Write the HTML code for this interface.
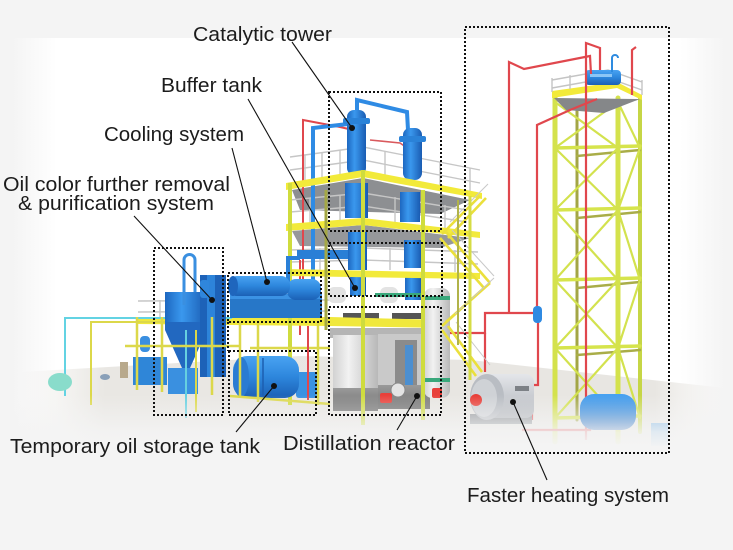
<!DOCTYPE html>
<html><head><meta charset="utf-8"><style>
html,body{margin:0;padding:0;background:#f4f4f4;}
svg{display:block}
text{font-family:"Liberation Sans",sans-serif;font-size:20px;fill:#1c1c1c}
</style></head><body>
<svg width="733" height="550" viewBox="0 0 733 550" xmlns="http://www.w3.org/2000/svg">
<defs>
<linearGradient id="lf" x1="0" x2="1" y1="0" y2="0"><stop offset="0" stop-color="#f4f4f4"/><stop offset="1" stop-color="#fff"/></linearGradient>
<linearGradient id="rf" x1="0" x2="1" y1="0" y2="0"><stop offset="0" stop-color="#f4f4f4" stop-opacity="0"/><stop offset="1" stop-color="#f4f4f4"/></linearGradient>
<linearGradient id="bf" x1="0" y1="0" x2="0" y2="1"><stop offset="0" stop-color="#f4f4f4" stop-opacity="0"/><stop offset="0.7" stop-color="#f4f4f4" stop-opacity="0.85"/><stop offset="1" stop-color="#f4f4f4"/></linearGradient>
<linearGradient id="fl" x1="0" y1="0" x2="1" y2="0"><stop offset="0" stop-color="#ebe9e5" stop-opacity="0"/><stop offset="0.12" stop-color="#e9e7e3"/><stop offset="0.9" stop-color="#e8e6e2"/><stop offset="1" stop-color="#ebe9e5" stop-opacity="0"/></linearGradient>
<linearGradient id="cyl" x1="0" x2="1" y1="0" y2="0"><stop offset="0" stop-color="#1d67c0"/><stop offset="0.4" stop-color="#3a98ee"/><stop offset="1" stop-color="#1a5cb2"/></linearGradient>
<linearGradient id="hcyl" x1="0" x2="0" y1="0" y2="1"><stop offset="0" stop-color="#49a3f2"/><stop offset="0.5" stop-color="#2d86dc"/><stop offset="1" stop-color="#1b60b5"/></linearGradient>
<linearGradient id="steel" x1="0" x2="1" y1="0" y2="0"><stop offset="0" stop-color="#d2d2d2"/><stop offset="0.35" stop-color="#f2f2f2"/><stop offset="1" stop-color="#b8b8b8"/></linearGradient>
<linearGradient id="steelb" x1="0" x2="0" y1="0" y2="1"><stop offset="0" stop-color="#9a9a9a"/><stop offset="1" stop-color="#6c6c6c"/></linearGradient>
<linearGradient id="boil" x1="0" x2="0" y1="0" y2="1"><stop offset="0" stop-color="#e4e6ea"/><stop offset="1" stop-color="#aeb2b8"/></linearGradient>
</defs>

<!-- background -->
<rect width="733" height="550" fill="#f4f4f4"/>
<rect x="12" y="38" width="713" height="410" fill="#fff"/>
<rect x="12" y="38" width="45" height="410" fill="url(#lf)"/>
<rect x="680" y="38" width="45" height="410" fill="url(#rf)"/>
<!-- floor -->
<polygon points="20,372 300,356 470,360 725,388 725,445 20,440" fill="url(#fl)"/>

<!-- ============ RIGHT TOWER ============ -->
<g stroke-linecap="round">
  <line x1="577" y1="104" x2="577" y2="420" stroke="#a3a645" stroke-width="3"/>
  <line x1="640" y1="98" x2="640" y2="432" stroke="#c6d646" stroke-width="4"/>
  <g stroke="#a9ad48" stroke-width="2.5">
    <line x1="577" y1="156" x2="640" y2="150"/>
    <line x1="577" y1="218" x2="640" y2="212"/>
    <line x1="577" y1="288" x2="640" y2="282"/>
    <line x1="577" y1="355" x2="640" y2="350"/>
  </g>
  <g stroke="#d3e24e" stroke-width="2.2">
    <line x1="555" y1="102" x2="618" y2="148"/><line x1="618" y1="102" x2="555" y2="148"/>
    <line x1="555" y1="148" x2="618" y2="210"/><line x1="618" y1="148" x2="555" y2="210"/>
    <line x1="555" y1="210" x2="618" y2="280"/><line x1="618" y1="210" x2="555" y2="280"/>
    <line x1="555" y1="280" x2="618" y2="348"/><line x1="618" y1="280" x2="555" y2="348"/>
    <line x1="555" y1="348" x2="618" y2="418"/><line x1="618" y1="348" x2="555" y2="418"/>
    <line x1="618" y1="102" x2="640" y2="148"/><line x1="640" y1="148" x2="618" y2="210"/>
    <line x1="618" y1="210" x2="640" y2="280"/><line x1="640" y1="280" x2="618" y2="348"/>
    <line x1="618" y1="348" x2="640" y2="418"/>
  </g>
  <g stroke="#d6e44c" stroke-width="3.5">
    <line x1="555" y1="148" x2="640" y2="146"/>
    <line x1="555" y1="210" x2="640" y2="208"/>
    <line x1="555" y1="280" x2="640" y2="278"/>
    <line x1="555" y1="348" x2="640" y2="346"/>
    <line x1="555" y1="418" x2="640" y2="416"/>
  </g>
  <line x1="555" y1="94" x2="555" y2="442" stroke="#d4e24c" stroke-width="5"/>
  <line x1="618" y1="98" x2="618" y2="442" stroke="#d4e24c" stroke-width="5"/>
</g>
<polygon points="554,98 640,99 604,113 566,110" fill="#858789"/>
<polygon points="552,91 617,82 642,95 642,100 617,88 552,98" fill="#f2ea3a"/>
<g stroke="#c4c4c4" stroke-width="1.4" fill="none">
  <polyline points="552,80 608,70 642,82"/>
  <polyline points="552,88 608,78 642,90"/>
  <line x1="552" y1="78" x2="552" y2="92"/><line x1="570" y1="75" x2="570" y2="89"/><line x1="642" y1="80" x2="642" y2="95"/>
</g>
<rect x="585" y="70" width="36" height="15" rx="4" fill="url(#hcyl)"/>
<rect x="590" y="74" width="22" height="3" fill="#8cc6f6"/>
<path d="M612,72 V58 a3,3 0 0 1 6,0" stroke="#2e8be0" stroke-width="2" fill="none"/>

<g stroke="#e0474d" stroke-width="2.2" fill="none">
  <polyline points="509,312 509,62 524,69 590,56 591,74"/>
  <polyline points="537,313 537,125 570,110 597,99"/>
  <polyline points="586,440 586,43 600,48 600,70"/>
  <polyline points="632,95 632,50 636,47"/>
  <polyline points="440,333 485,333 485,313 538,313 538,385 532,385 532,420"/>
  <polyline points="485,333 485,372"/>
  <polyline points="522,430 590,430 590,418"/>
</g>
<rect x="533" y="306" width="9" height="17" rx="4" fill="#2f8ae2"/>

<!-- boiler -->
<rect x="470" y="414" width="62" height="10" fill="#8e9297"/>
<rect x="482" y="374" width="52" height="44" rx="8" fill="url(#boil)"/>
<rect x="515" y="386" width="14" height="5" fill="#7d8186"/>
<ellipse cx="487" cy="397" rx="17" ry="23" fill="#b9bdc3"/>
<ellipse cx="484" cy="398" rx="13" ry="19" fill="#cfd2d6"/>
<circle cx="476" cy="400" r="6" fill="#e83e38"/>
<rect x="580" y="394" width="56" height="36" rx="14" fill="url(#hcyl)"/>
<rect x="651" y="423" width="17" height="23" fill="#4a9ce6" opacity="0.7"/>

<!-- ============ CENTRAL TOWER ============ -->
<polygon points="292,190 363,178 470,200 440,214 300,210" fill="#8d8f92"/>
<polygon points="292,231 363,225 470,238 440,248 300,246" fill="#96989b"/>
<g stroke="#c6c6c6" stroke-width="1.4" fill="none">
  <polyline points="290,157 363,147 480,170"/><polyline points="290,170 363,160 480,183"/>
  <polyline points="290,200 363,193 467,210"/><polyline points="290,212 363,206 467,222"/>
  <polyline points="290,250 363,248 478,252"/><polyline points="290,262 363,260 478,264"/>
  <polyline points="138,301 330,300"/><polyline points="138,312 330,311"/>
  <line x1="305" y1="155" x2="305" y2="185"/><line x1="322" y1="152" x2="322" y2="183"/><line x1="340" y1="150" x2="340" y2="180"/>
  <line x1="385" y1="151" x2="385" y2="180"/><line x1="410" y1="156" x2="410" y2="185"/><line x1="440" y1="162" x2="440" y2="190"/><line x1="470" y1="168" x2="470" y2="195"/>
  <line x1="310" y1="198" x2="310" y2="226"/><line x1="340" y1="195" x2="340" y2="222"/><line x1="395" y1="197" x2="395" y2="225"/><line x1="445" y1="205" x2="445" y2="232"/>
  <line x1="320" y1="248" x2="320" y2="270"/><line x1="390" y1="248" x2="390" y2="270"/><line x1="455" y1="250" x2="455" y2="272"/>
  <line x1="160" y1="300" x2="160" y2="318"/><line x1="190" y1="300" x2="190" y2="318"/><line x1="250" y1="300" x2="250" y2="318"/><line x1="280" y1="300" x2="280" y2="318"/>
</g>

<polyline points="303,300 303,120 340,127 353,130" stroke="#e0474d" stroke-width="2" fill="none"/>
<polyline points="370,140 400,143 410,150" stroke="#d9595d" stroke-width="1.6" fill="none"/>
<line x1="300" y1="260" x2="300" y2="335" stroke="#e0474d" stroke-width="2"/>
<polyline points="313,305 313,128 348,124" stroke="#2f8be4" stroke-width="4" fill="none"/>
<polyline points="357,112 357,100 407,112 408,130" stroke="#2f8be4" stroke-width="4" fill="none"/>
<rect x="297" y="250" width="62" height="9" fill="#2a7fd6"/>

<rect x="347" y="110" width="19" height="65" rx="7" fill="url(#cyl)"/>
<rect x="343" y="118" width="27" height="6" rx="2" fill="#2a82d8"/>
<rect x="403" y="128" width="19" height="52" rx="7" fill="url(#cyl)"/>
<rect x="399" y="136" width="27" height="6" rx="2" fill="#2a82d8"/>
<rect x="345" y="183" width="23" height="35" fill="url(#cyl)"/>
<rect x="400" y="192" width="20" height="30" fill="url(#cyl)"/>
<rect x="348" y="232" width="19" height="38" fill="url(#cyl)"/>
<rect x="404" y="240" width="17" height="28" fill="url(#cyl)"/>
<rect x="350" y="276" width="16" height="20" fill="url(#cyl)"/>
<rect x="405" y="276" width="16" height="24" fill="url(#cyl)"/>
<rect x="328" y="287" width="18" height="16" rx="6" fill="#e3e3e3"/>
<rect x="380" y="287" width="18" height="16" rx="6" fill="#e3e3e3"/>
<rect x="375" y="293" width="50" height="4" fill="#3aa87c"/>
<rect x="343" y="313" width="36" height="6" fill="#555"/>
<rect x="392" y="313" width="32" height="6" fill="#555"/>

<polygon points="286,183 363,170 482,193 482,199 363,177 286,190" fill="#f2ea3a"/>
<polygon points="286,224 363,218 480,232 480,238 363,225 286,231" fill="#f2ea3a"/>
<polygon points="286,269 480,273 480,279 286,276" fill="#f2ea3a"/>
<polygon points="137,317 330,317 445,320 445,328 330,326 137,324" fill="#f0e83c"/>

<!-- reactor -->
<rect x="330" y="328" width="112" height="10" fill="#b5b5b5"/>
<rect x="378" y="334" width="52" height="74" fill="#c9c9c9"/>
<rect x="395" y="340" width="22" height="50" fill="#8b8b8b"/>
<rect x="405" y="345" width="8" height="40" fill="#4c8fd0"/>
<rect x="333" y="335" width="45" height="55" fill="url(#steel)"/>
<rect x="333" y="388" width="45" height="23" fill="url(#steelb)"/>
<rect x="378" y="385" width="52" height="24" fill="url(#steelb)"/>
<rect x="424" y="288" width="26" height="110" rx="8" fill="url(#steel)"/>
<rect x="424" y="296" width="26" height="4" fill="#3aa87c"/>
<rect x="424" y="378" width="26" height="4" fill="#3aa87c"/>
<rect x="380" y="393" width="12" height="10" rx="2" fill="#e8403a"/>
<rect x="432" y="388" width="10" height="10" rx="2" fill="#e8403a"/>
<circle cx="398" cy="390" r="7" fill="#e4e4e4" stroke="#888" stroke-width="1"/>

<g stroke="#ebe03c" stroke-width="2.6" fill="none">
  <line x1="480" y1="196" x2="442" y2="234"/><line x1="486" y1="198" x2="448" y2="238"/>
  <line x1="446" y1="232" x2="490" y2="283"/><line x1="440" y1="238" x2="484" y2="288"/>
  <line x1="490" y1="283" x2="446" y2="322"/><line x1="484" y1="288" x2="442" y2="326"/>
  <line x1="448" y1="326" x2="482" y2="372"/><line x1="442" y1="330" x2="476" y2="376"/>
</g>
<g stroke="#c8c8c8" stroke-width="1" fill="none">
  <line x1="450" y1="222" x2="488" y2="184"/><line x1="452" y1="230" x2="494" y2="276"/>
  <line x1="455" y1="314" x2="494" y2="278"/><line x1="456" y1="322" x2="490" y2="365"/>
</g>

<g stroke-linecap="butt">
  <line x1="326" y1="190" x2="326" y2="330" stroke="#a4a845" stroke-width="3"/>
  <line x1="290" y1="183" x2="290" y2="405" stroke="#cfdc3e" stroke-width="4"/>
  <line x1="363" y1="170" x2="363" y2="425" stroke="#cfdc3e" stroke-width="4"/>
  <line x1="423" y1="190" x2="423" y2="420" stroke="#cfdc3e" stroke-width="4"/>
  <line x1="470" y1="196" x2="470" y2="380" stroke="#d6dc44" stroke-width="3"/>
  <line x1="458" y1="200" x2="458" y2="345" stroke="#b1b34a" stroke-width="2"/>
</g>

<!-- ============ LEFT GROUP ============ -->
<polyline points="65,396 65,318 232,318" stroke="#63d3e3" stroke-width="2" fill="none"/>
<polyline points="91,405 91,322 232,322" stroke="#dcd84a" stroke-width="2" fill="none"/>
<ellipse cx="60" cy="382" rx="12" ry="9" fill="#89dccb"/>
<rect x="120" y="362" width="8" height="16" fill="#b8a98c"/>
<ellipse cx="105" cy="377" rx="5" ry="3" fill="#8aa0b8"/>

<rect x="133" y="357" width="34" height="28" fill="#2f86d8"/>
<rect x="140" y="336" width="10" height="16" rx="4" fill="#3a8fe0"/>
<path d="M165,298 H207 V330 L190,368 H182 L165,330 Z" fill="#2268c0"/>
<rect x="165" y="292" width="42" height="30" fill="url(#cyl)"/>
<rect x="200" y="275" width="26" height="102" fill="#1d62b8"/>
<rect x="207" y="275" width="8" height="102" fill="#2d84da"/>
<rect x="168" y="368" width="30" height="26" fill="#3a90e0"/>
<path d="M184,305 V260 a5.5,5.5 0 0 1 11,0 V292" stroke="#3a8fe0" stroke-width="3" fill="none"/>
<rect x="200" y="280" width="9" height="18" rx="3" fill="#2f86dc"/>
<line x1="186" y1="330" x2="186" y2="418" stroke="#66d0e0" stroke-width="2"/>
<line x1="196" y1="330" x2="196" y2="412" stroke="#dcd84a" stroke-width="2"/>

<path d="M288,282 V258 H300" stroke="#2a80d8" stroke-width="4" fill="none"/>
<rect x="230" y="294" width="92" height="24" fill="#2777c8"/>
<rect x="230" y="294" width="92" height="5" fill="#3b92e4"/>
<rect x="287" y="279" width="34" height="21" rx="9" fill="url(#hcyl)"/>
<rect x="228" y="276" width="62" height="20" rx="9" fill="url(#hcyl)"/>
<ellipse cx="233" cy="286" rx="5" ry="10" fill="#1f66bd"/>

<rect x="296" y="372" width="22" height="26" rx="3" fill="#3a92e2"/>
<rect x="233" y="356" width="66" height="42" rx="14" fill="url(#hcyl)"/>
<ellipse cx="241" cy="377" rx="8" ry="20" fill="#2a7bd2"/>
<line x1="263" y1="358" x2="263" y2="396" stroke="#1c5eb0" stroke-width="1.5"/>

<g stroke="#dcd84a" stroke-width="2.5">
  <line x1="137" y1="317" x2="137" y2="390"/>
  <line x1="162" y1="317" x2="162" y2="392"/>
  <line x1="212" y1="317" x2="212" y2="395"/>
  <line x1="240" y1="322" x2="240" y2="398"/>
  <line x1="258" y1="322" x2="258" y2="402"/>
  <line x1="318" y1="322" x2="318" y2="405"/>
  <line x1="125" y1="346" x2="240" y2="346"/>
  <line x1="230" y1="396" x2="330" y2="404"/>
  <line x1="250" y1="348" x2="330" y2="348"/>
</g>
<line x1="308" y1="326" x2="308" y2="400" stroke="#e0474d" stroke-width="2"/>

<!-- bottom fade -->
<rect x="0" y="395" width="733" height="53" fill="url(#bf)"/>

<!-- ============ DOTTED BOXES ============ -->
<g fill="none" stroke="#111" stroke-width="2" stroke-dasharray="2 2">
  <rect x="329" y="92" width="112" height="139"/>
  <rect x="329" y="243" width="113" height="53"/>
  <rect x="329" y="307" width="112" height="108"/>
  <rect x="154" y="248" width="69" height="167"/>
  <rect x="228" y="273" width="93" height="49"/>
  <line x1="228" y1="322" x2="228" y2="351"/>
  <rect x="229" y="351" width="87" height="64"/>
  <rect x="465" y="27" width="204" height="426"/>
</g>

<!-- ============ LEADERS ============ -->
<g stroke="#111" stroke-width="1.1">
  <line x1="292" y1="42" x2="352" y2="128"/>
  <line x1="248" y1="99" x2="355" y2="288"/>
  <line x1="232" y1="148" x2="267" y2="282"/>
  <line x1="134" y1="216" x2="212" y2="300"/>
  <line x1="274" y1="386" x2="236" y2="432"/>
  <line x1="417" y1="396" x2="397" y2="430"/>
  <line x1="513" y1="402" x2="547" y2="480"/>
</g>
<g fill="#111">
  <circle cx="352" cy="128" r="3"/><circle cx="355" cy="288" r="3"/><circle cx="267" cy="282" r="3"/>
  <circle cx="212" cy="300" r="3"/><circle cx="274" cy="386" r="3"/><circle cx="417" cy="396" r="3"/>
  <circle cx="513" cy="402" r="3"/>
</g>

<!-- ============ LABELS ============ -->
<text x="193" y="41" textLength="139" lengthAdjust="spacingAndGlyphs">Catalytic tower</text>
<text x="161" y="92" textLength="101" lengthAdjust="spacingAndGlyphs">Buffer tank</text>
<text x="104" y="141" textLength="140" lengthAdjust="spacingAndGlyphs">Cooling system</text>
<text x="3" y="191" textLength="227" lengthAdjust="spacingAndGlyphs">Oil color further removal</text>
<text x="18" y="210" textLength="196" lengthAdjust="spacingAndGlyphs">&amp; purification system</text>
<text x="10" y="453" textLength="250" lengthAdjust="spacingAndGlyphs">Temporary oil storage tank</text>
<text x="283" y="450" textLength="172" lengthAdjust="spacingAndGlyphs">Distillation reactor</text>
<text x="467" y="502" textLength="202" lengthAdjust="spacingAndGlyphs">Faster heating system</text>
</svg>
</body></html>
